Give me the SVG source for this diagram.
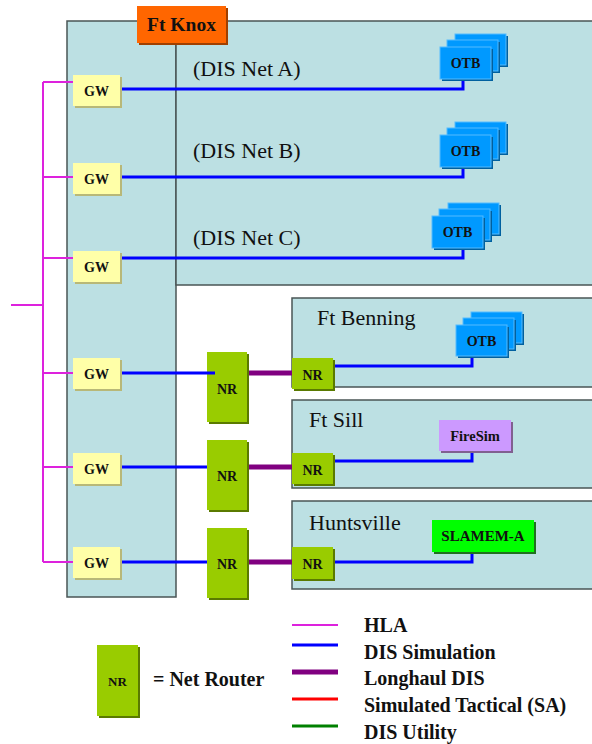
<svg xmlns="http://www.w3.org/2000/svg" width="592" height="744" viewBox="0 0 592 744">
<style>
.bg{fill:#BCE0E3;stroke:#4A5555;stroke-width:1.5}
.t{font-family:"Liberation Serif","Times New Roman",serif;fill:#111}
.b{font-weight:bold}
.lbl{font-size:22px}
.lg{font-size:20px}
.gw{fill:#FFFFA8}
.gws{fill:#B8B878}
.otb{fill:#0099FF;stroke:#55BBFF;stroke-width:1}
.otbs{fill:#00609F}
.nr{fill:#99CC00}
.nrs{fill:#5A7A00}
.blue{stroke:#0000FF;stroke-width:3;fill:none}
.mag{stroke:#DD22DD;stroke-width:2;fill:none}
.pur{stroke:#800080;stroke-width:5;fill:none}
</style>
<rect width="592" height="744" fill="#fff"/>
<g id="ftknox-area">
<rect class="bg" x="67" y="21" width="109" height="576"/>
<rect class="bg" x="176" y="21" width="430" height="264"/>
</g>
<g id="ftbenning-area">
<rect class="bg" x="292" y="298" width="314" height="89"/>
<text class="t lbl" x="317" y="325">Ft Benning</text>
</g>
<g id="ftsill-area">
<rect class="bg" x="292" y="400" width="314" height="88"/>
<text class="t lbl" x="309" y="427">Ft Sill</text>
</g>
<g id="huntsville-area">
<rect class="bg" x="292" y="501" width="314" height="88"/>
<text class="t lbl" x="309" y="530">Huntsville</text>
</g>
<g id="ftknox-label">
<rect x="139" y="8" width="89" height="37" fill="#A04000"/>
<rect x="137" y="6" width="89" height="37" fill="#FF6600"/>
<text class="t b" x="181.5" y="31" font-size="19.5" text-anchor="middle">Ft Knox</text>
</g>
<g id="net-labels">
<text class="t lbl" x="193" y="76">(DIS Net A)</text>
<text class="t lbl" x="193" y="158">(DIS Net B)</text>
<text class="t lbl" x="193" y="245">(DIS Net C)</text>
</g>
<g id="connectors">
<path class="mag" d="M43,82 V562 M11,305 H43 M43,82 H73 M43,177 H73 M43,258 H73 M43,373 H73 M43,467 H73 M43,562 H73"/>
<path class="blue" d="M122,89 H463 V79 M122,177 H463 V166 M122,258 H463 V248 M122,467 H207 M122,562 H207 M333,366 H472 V356 M333,461 H472 V451 M333,562 H472 V552"/>
<path class="pur" d="M247,373 H292 M247,467 H292 M247,562 H292"/>
</g>
<g id="gw1"><rect class="gws" x="75" y="77" width="47" height="31"/><rect class="gw" x="73" y="75" width="47" height="31"/><text class="t b" x="96.5" y="96" font-size="14" text-anchor="middle">GW</text></g>
<g id="gw2"><rect class="gws" x="75" y="165" width="47" height="31"/><rect class="gw" x="73" y="163" width="47" height="31"/><text class="t b" x="96.5" y="184" font-size="14" text-anchor="middle">GW</text></g>
<g id="gw3"><rect class="gws" x="75" y="253" width="47" height="31"/><rect class="gw" x="73" y="251" width="47" height="31"/><text class="t b" x="96.5" y="272" font-size="14" text-anchor="middle">GW</text></g>
<g id="gw4"><rect class="gws" x="75" y="360" width="47" height="31"/><rect class="gw" x="73" y="358" width="47" height="31"/><text class="t b" x="96.5" y="379" font-size="14" text-anchor="middle">GW</text></g>
<g id="gw5"><rect class="gws" x="75" y="455" width="47" height="31"/><rect class="gw" x="73" y="453" width="47" height="31"/><text class="t b" x="96.5" y="474" font-size="14" text-anchor="middle">GW</text></g>
<g id="gw6"><rect class="gws" x="75" y="549" width="47" height="31"/><rect class="gw" x="73" y="547" width="47" height="31"/><text class="t b" x="96.5" y="568" font-size="14" text-anchor="middle">GW</text></g>
<g id="otb-a">
<rect class="otbs" x="457" y="36" width="51" height="31"/><rect class="otb" x="455" y="34" width="51" height="31"/>
<rect class="otbs" x="449" y="42" width="51" height="31"/><rect class="otb" x="447" y="40" width="51" height="31"/>
<rect class="otbs" x="442" y="49" width="51" height="32"/><rect class="otb" x="440" y="47" width="51" height="32"/>
<text class="t b" x="465.5" y="68" font-size="14" text-anchor="middle">OTB</text></g>
<g id="otb-b">
<rect class="otbs" x="457" y="124" width="51" height="31"/><rect class="otb" x="455" y="122" width="51" height="31"/>
<rect class="otbs" x="449" y="130" width="51" height="31"/><rect class="otb" x="447" y="128" width="51" height="31"/>
<rect class="otbs" x="442" y="137" width="51" height="32"/><rect class="otb" x="440" y="135" width="51" height="32"/>
<text class="t b" x="465.5" y="156" font-size="14" text-anchor="middle">OTB</text></g>
<g id="otb-c">
<rect class="otbs" x="450" y="205" width="51" height="31"/><rect class="otb" x="448" y="203" width="51" height="31"/>
<rect class="otbs" x="441" y="211" width="51" height="31"/><rect class="otb" x="439" y="209" width="51" height="31"/>
<rect class="otbs" x="434" y="218" width="51" height="32"/><rect class="otb" x="432" y="216" width="51" height="32"/>
<text class="t b" x="457.5" y="237" font-size="14" text-anchor="middle">OTB</text></g>
<g id="otb-benning">
<rect class="otbs" x="473" y="314" width="51" height="31"/><rect class="otb" x="471" y="312" width="51" height="31"/>
<rect class="otbs" x="465" y="320" width="51" height="31"/><rect class="otb" x="463" y="318" width="51" height="31"/>
<rect class="otbs" x="458" y="327" width="51" height="31"/><rect class="otb" x="456" y="325" width="51" height="31"/>
<text class="t b" x="481.5" y="346" font-size="14" text-anchor="middle">OTB</text></g>
<g id="firesim"><rect x="441" y="422" width="72" height="31" fill="#806090"/><rect x="439" y="420" width="72" height="31" fill="#CC99FF"/><text class="t b" x="475" y="441" font-size="14.5" text-anchor="middle">FireSim</text></g>
<g id="slamem"><rect x="434" y="522" width="102" height="32" fill="#207020"/><rect x="432" y="520" width="102" height="32" fill="#00FF00"/><text class="t b" x="483" y="541" font-size="15" text-anchor="middle">SLAMEM-A</text></g>
<g id="nr1"><rect class="nrs" x="209" y="354" width="40" height="70"/><rect class="nr" x="207" y="352" width="40" height="70"/><text class="t b" x="227" y="394" font-size="14" text-anchor="middle">NR</text></g>
<g id="nr2"><rect class="nrs" x="209" y="442" width="40" height="70"/><rect class="nr" x="207" y="440" width="40" height="70"/><text class="t b" x="227" y="481" font-size="14" text-anchor="middle">NR</text></g>
<g id="nr3"><rect class="nrs" x="209" y="530" width="40" height="70"/><rect class="nr" x="207" y="528" width="40" height="70"/><text class="t b" x="227" y="569" font-size="14" text-anchor="middle">NR</text></g>
<path class="blue" d="M122,373 H215"/>
<g id="nr-benning"><rect class="nrs" x="294" y="360" width="41" height="31"/><rect class="nr" x="292" y="358" width="41" height="31"/><text class="t b" x="312.5" y="380" font-size="14" text-anchor="middle">NR</text></g>
<g id="nr-sill"><rect class="nrs" x="294" y="455" width="41" height="31"/><rect class="nr" x="292" y="453" width="41" height="31"/><text class="t b" x="312.5" y="475" font-size="14" text-anchor="middle">NR</text></g>
<g id="nr-huntsville"><rect class="nrs" x="294" y="549" width="41" height="32"/><rect class="nr" x="292" y="547" width="41" height="32"/><text class="t b" x="312.5" y="569" font-size="14" text-anchor="middle">NR</text></g>
<g id="legend">
<rect class="nrs" x="99" y="647" width="41" height="71"/><rect class="nr" x="97" y="645" width="41" height="71"/>
<text class="t b" x="117.5" y="686" font-size="13" text-anchor="middle">NR</text>
<text class="t b lg" x="153" y="686">= Net Router</text>
<line x1="292" y1="625" x2="338" y2="625" stroke="#DD22DD" stroke-width="2"/>
<line x1="292" y1="645" x2="338" y2="645" stroke="#0000FF" stroke-width="3"/>
<line x1="292" y1="672" x2="338" y2="672" stroke="#800080" stroke-width="5"/>
<line x1="292" y1="699" x2="338" y2="699" stroke="#FF0000" stroke-width="3"/>
<line x1="292" y1="726" x2="338" y2="726" stroke="#008000" stroke-width="3"/>
<text class="t b lg" x="364" y="632">HLA</text>
<text class="t b lg" x="364" y="659">DIS Simulation</text>
<text class="t b lg" x="364" y="685">Longhaul DIS</text>
<text class="t b lg" x="364" y="712">Simulated Tactical (SA)</text>
<text class="t b lg" x="364" y="739">DIS Utility</text>
</g>
</svg>
